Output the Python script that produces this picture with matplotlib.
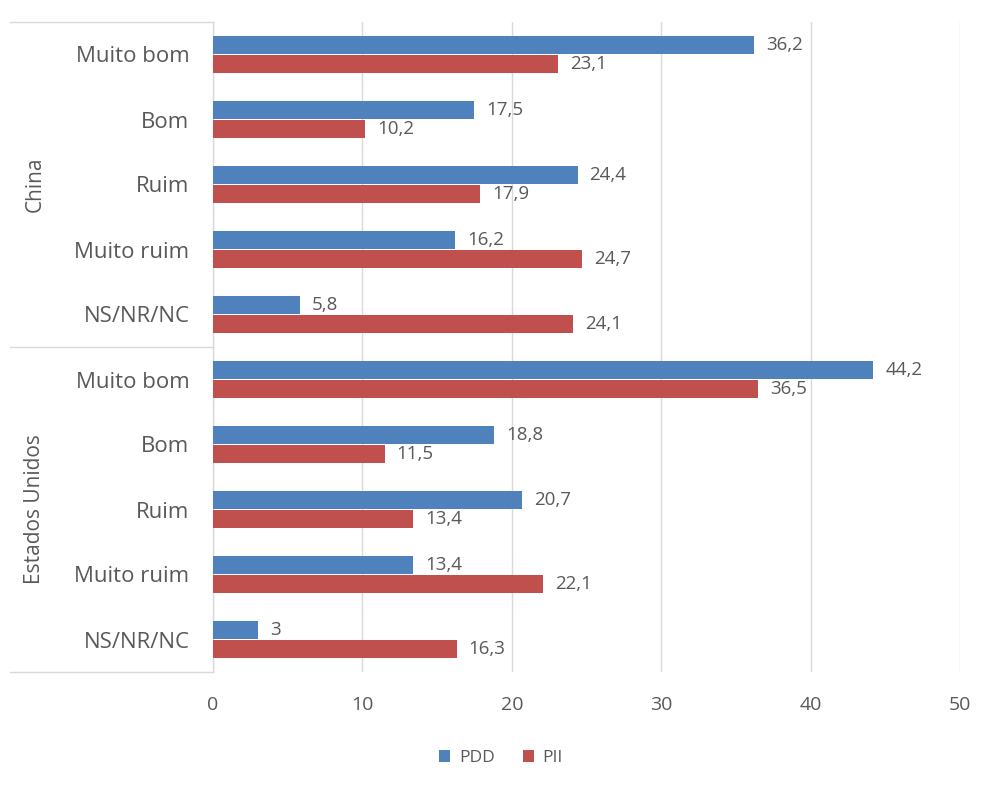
import numpy as np
import matplotlib.pyplot as plt
import matplotlib.transforms as mtransforms

plt.rcParams['font.family'] = ['Open Sans', 'DejaVu Sans']

# data
groups = ['China', 'Estados Unidos']
categories = ['Muito bom', 'Bom', 'Ruim', 'Muito ruim', 'NS/NR/NC']
pdd = [36.2, 17.5, 24.4, 16.2, 5.8, 44.2, 18.8, 20.7, 13.4, 3]
pii = [23.1, 10.2, 17.9, 24.7, 24.1, 36.5, 11.5, 13.4, 22.1, 16.3]
series_names = ['PDD', 'PII']
xticks = [0, 10, 20, 30, 40, 50]

blue = '#4F81BD'
red = '#C0504D'
txt = '#595959'
grid = '#D9D9D9'

fig = plt.figure(figsize=(9.82, 7.85), dpi=100)
ax = fig.add_axes([213/982, 113/785, 747/982, 650/785])

n = len(pdd)
y = np.arange(n)
h = 0.27
off = 0.145

ax.barh(y - off, pdd, height=h, color=blue, label=series_names[0], zorder=3)
ax.barh(y + off, pii, height=h, color=red, label=series_names[1], zorder=3)

def fmt(v):
    # decimal comma like the original
    return ('%g' % v).replace('.', ',')

for yi, v in zip(y, pdd):
    ax.text(v + 0.8, yi - off, fmt(v), va='center', ha='left', fontsize=13.5, color=txt)
for yi, v in zip(y, pii):
    ax.text(v + 0.8, yi + off, fmt(v), va='center', ha='left', fontsize=13.5, color=txt)

ax.set_xlim(0, 50)
ax.set_ylim(n - 0.5, -0.5)
ax.set_xticks(xticks)
ax.set_xticklabels([str(t) for t in xticks], fontsize=14, color=txt)
ax.tick_params(axis='x', length=0, pad=17)
ax.xaxis.grid(True, color=grid, linewidth=1, zorder=0)

ax.set_yticks(y)
ax.set_yticklabels(categories * len(groups), fontsize=16, color=txt)
ax.tick_params(axis='y', length=0, pad=17)
for lab in ax.get_yticklabels():
    lab.set_verticalalignment('center_baseline')

for s in ['top', 'right', 'bottom']:
    ax.spines[s].set_visible(False)
ax.spines['left'].set_color(grid)
ax.spines['left'].set_linewidth(1)

# group separators and labels
trans = mtransforms.blended_transform_factory(ax.transAxes, ax.transData)
xl = (10 - 213) / 747
ng = len(categories)
for k in range(len(groups) + 1):
    yb = k * ng - 0.5
    ax.plot([xl, 0], [yb, yb], transform=trans, color=grid, lw=1, clip_on=False)
for k, g in enumerate(groups):
    yc = k * ng + (ng - 1) / 2
    ax.text((35 - 213) / 747, yc, g, transform=trans, rotation=90,
            va='center', ha='center', fontsize=15, color=txt)

leg = fig.legend(loc='center', bbox_to_anchor=(501/982, 1 - 758/785), ncol=2,
                 frameon=False, fontsize=12.5, handlelength=0.65, handleheight=0.65,
                 handletextpad=0.5, columnspacing=1.6)
for t in leg.get_texts():
    t.set_color(txt)

fig.savefig('out.png', dpi=100)
